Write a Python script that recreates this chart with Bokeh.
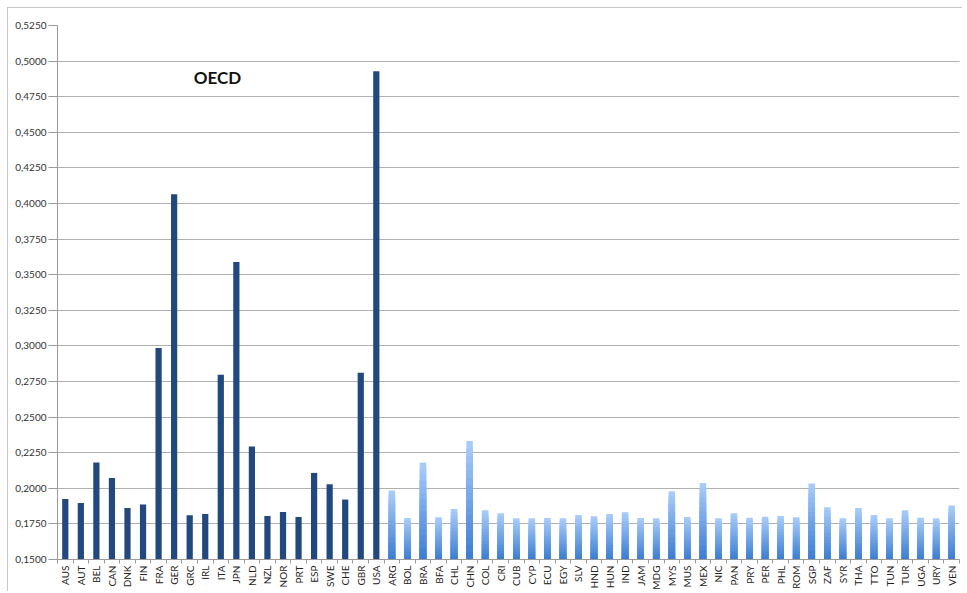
import math
import numpy as np
from bokeh.plotting import figure
from bokeh.models import FixedTicker, CustomJSTickFormatter, Label, Range1d
from bokeh.embed import file_html
from bokeh.resources import INLINE

oecd_codes = ["AUS", "AUT", "BEL", "CAN", "DNK", "FIN", "FRA", "GER", "GRC", "IRL", "ITA",
              "JPN", "NLD", "NZL", "NOR", "PRT", "ESP", "SWE", "CHE", "GBR", "USA"]
oecd_values = [0.1925, 0.1897, 0.2182, 0.2073, 0.1862, 0.1886, 0.2986, 0.4065, 0.1811, 0.1820, 0.2797,
               0.3589, 0.2294, 0.1806, 0.1834, 0.1799, 0.2108, 0.2028, 0.1921, 0.2811, 0.4928]

other_codes = ["ARG", "BOL", "BRA", "BFA", "CHL", "CHN", "COL", "CRI", "CUB", "CYP", "ECU", "EGY",
               "SLV", "HND", "HUN", "IND", "JAM", "MDG", "MYS", "MUS", "MEX", "NIC", "PAN", "PRY",
               "PER", "PHL", "ROM", "SGP", "ZAF", "SYR", "THA", "TTO", "TUN", "TUR", "UGA", "URY", "VEN"]
other_values = [0.1984, 0.1792, 0.2180, 0.1797, 0.1855, 0.2332, 0.1846, 0.1825, 0.1790, 0.1790, 0.1792, 0.1790,
                0.1813, 0.1804, 0.1820, 0.1832, 0.1792, 0.1790, 0.1979, 0.1799, 0.2037, 0.1790, 0.1825, 0.1794,
                0.1801, 0.1806, 0.1797, 0.2033, 0.1867, 0.1790, 0.1862, 0.1813, 0.1790, 0.1846, 0.1794, 0.1790, 0.1879]

y_ticks = [0.150, 0.175, 0.200, 0.225, 0.250, 0.275, 0.300, 0.325, 0.350, 0.375,
           0.400, 0.425, 0.450, 0.475, 0.500, 0.525]
group_label = "OECD"

codes = oecd_codes + other_codes
n = len(codes)
base = y_ticks[0]

p = figure(width=955, height=584, output_backend="svg", toolbar_location=None,
           x_range=Range1d(-0.5, n - 0.5), y_range=Range1d(y_ticks[0], y_ticks[-1]),
           min_border_left=49, min_border_right=4, min_border_top=17, min_border_bottom=32)
p.outline_line_color = None
p.background_fill_color = "white"
p.border_fill_color = "white"
p.styles = {"margin-top": "7px", "margin-left": "7px",
            "border-top": "1px solid #c8c8c8", "border-left": "1px solid #c8c8c8"}

# OECD bars
ox = list(range(len(oecd_codes)))
p.vbar(x=ox, top=oecd_values, bottom=base, width=0.4, fill_color="#22497e", line_color=None)

# Other bars with vertical gradient: nested bars from the top colour down to the bottom colour
nx = np.arange(len(oecd_codes), n)
vals = np.array(other_values)
nslice = 16
top_c = np.array([0xaa, 0xce, 0xfa])
bot_c = np.array([0x3b, 0x7c, 0xd1])
for k in range(nslice, 0, -1):
    f1 = k / nslice
    fm = (k - 0.5) / nslice
    c = bot_c + (top_c - bot_c) * fm
    col = "#%02x%02x%02x" % tuple(int(round(v)) for v in c)
    t = base + (vals - base) * f1
    p.vbar(x=nx, top=t, bottom=base, width=0.42, fill_color=col, line_color=None)

# Axes
font = "Lato"
p.yaxis.ticker = FixedTicker(ticks=y_ticks)
p.yaxis.formatter = CustomJSTickFormatter(code="return tick.toFixed(4).replace('.', ',');")
p.yaxis.axis_line_color = "#9a9a9a"
p.yaxis.major_tick_line_color = "#9a9a9a"
p.yaxis.major_tick_out = 9
p.yaxis.major_tick_in = 0
p.yaxis.minor_tick_line_color = None
p.yaxis.major_label_text_font = font
p.yaxis.major_label_text_font_size = "10px"
p.yaxis.major_label_text_color = "#333333"
p.yaxis.major_label_standoff = 2

centers = list(range(n))
bounds = [i - 0.5 for i in range(n + 1)]
p.xaxis.ticker = FixedTicker(ticks=centers, minor_ticks=bounds)
p.xaxis.major_label_overrides = {i: c for i, c in enumerate(codes)}
p.xaxis.major_label_orientation = math.pi / 2
p.xaxis.major_tick_line_color = None
p.xaxis.major_tick_out = 4
p.xaxis.major_tick_in = 0
p.xaxis.minor_tick_line_color = "#9a9a9a"
p.xaxis.minor_tick_out = 4
p.xaxis.minor_tick_in = 0
p.xaxis.axis_line_color = "#9a9a9a"
p.xaxis.major_label_text_font = font
p.xaxis.major_label_text_font_size = "10px"
p.xaxis.major_label_text_color = "#222222"
p.xaxis.major_label_standoff = 2

p.xgrid.grid_line_color = None
p.ygrid.ticker = FixedTicker(ticks=y_ticks)
p.ygrid.grid_line_color = "#b0b0b0"
p.ygrid.grid_line_width = 1

lbl = Label(x=8.26, y=0.4886, text=group_label, text_font=font, text_font_style="bold",
            text_font_size="17px", text_color="#111111", text_baseline="middle", text_align="left")
p.add_layout(lbl)

open("out.html", "w").write(file_html(p, INLINE))
